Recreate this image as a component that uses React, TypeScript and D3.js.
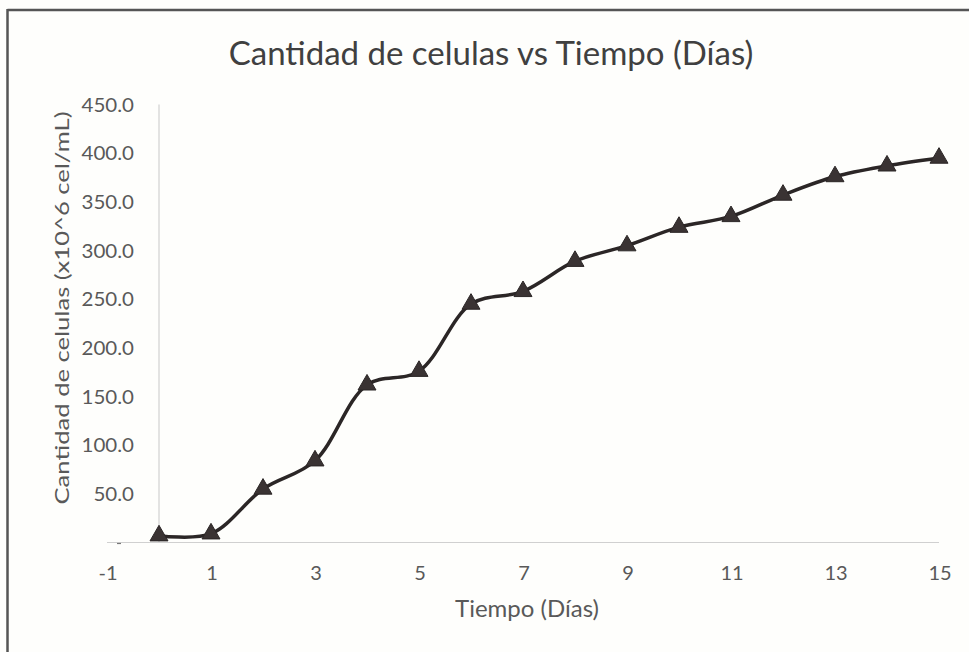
import React from "react";
import * as d3 from "d3";

const days: number[] = [0, 1, 2, 3, 4, 5, 6, 7, 8, 9, 10, 11, 12, 13, 14, 15];
const cells: number[] = [7, 9, 55, 84, 162, 176, 245, 258, 289, 305, 324, 335, 357, 376, 387, 395];
const xTicks: number[] = [-1, 1, 3, 5, 7, 9, 11, 13, 15];
const yTicks: number[] = [50, 100, 150, 200, 250, 300, 350, 400, 450];
const title = "Cantidad de celulas vs Tiempo (Días)";
const xLabel = "Tiempo (Días)";
const yLabel = "Cantidad de celulas (x10^6 cel/mL)";

const W = 969;
const H = 652;
const FONT = "Lato, 'Open Sans', sans-serif";

export default function App() {
  const x = d3.scaleLinear().domain([-1, 15]).range([107, 939]);
  const y = d3.scaleLinear().domain([0, 450]).range([542.5, 104.5]);
  const line = d3
    .line<number>()
    .x((_, i) => x(days[i]))
    .y((d) => y(d))
    .curve(d3.curveCatmullRom.alpha(0.5));
  const tri = d3.symbol().type(d3.symbolTriangle).size(140)();

  return (
    <svg
      width={W}
      height={H}
      style={{ position: "absolute", left: 0, top: 0, background: "#fefefc" }}
      fontFamily={FONT}
    >
      {/* frame */}
      <line x1={7.5} y1={10} x2={W} y2={10} stroke="#555" strokeWidth={2.5} />
      <line x1={7.5} y1={9} x2={7.5} y2={H} stroke="#555" strokeWidth={2.5} />

      <text x={491} y={65} textAnchor="middle" fontSize={33} fill="#404040">
        {title}
      </text>

      {/* axes */}
      <line x1={x(0)} x2={x(0)} y1={y(450)} y2={y(0)} stroke="#d0d0d0" strokeWidth={1.2} />
      <line x1={x(-1)} x2={x(15)} y1={y(0)} y2={y(0)} stroke="#d0d0d0" strokeWidth={1.2} />
      <line x1={x(-1) + 10} x2={x(-1) + 14} y1={y(0) + 1} y2={y(0) + 1} stroke="#777" strokeWidth={1.2} />

      {yTicks.map((t) => (
        <text
          key={t}
          transform={`translate(134, ${y(t) + 7}) scale(1.08, 1)`}
          textAnchor="end"
          fontSize={19}
          fill="#595959"
        >
          {t.toFixed(1)}
        </text>
      ))}
      {xTicks.map((t) => (
        <text key={t} x={x(t) + 1} y={580} textAnchor="middle" fontSize={20} fill="#595959">
          {t}
        </text>
      ))}

      <text x={527} y={617} textAnchor="middle" fontSize={24} fill="#595959">
        {xLabel}
      </text>
      <text
        transform={`translate(69, 308) rotate(-90) scale(1.28, 1)`}
        textAnchor="middle"
        fontSize={20}
        fill="#595959"
      >
        {yLabel}
      </text>

      <path d={line(cells) || ""} fill="none" stroke="#2b2626" strokeWidth={3.5} strokeLinejoin="round" />
      {cells.map((v, i) => (
        <path
          key={i}
          d={tri || ""}
          transform={`translate(${x(days[i])}, ${y(v)})`}
          fill="#3a3333"
          stroke="#2b2626"
          strokeWidth={1}
        />
      ))}
    </svg>
  );
}
